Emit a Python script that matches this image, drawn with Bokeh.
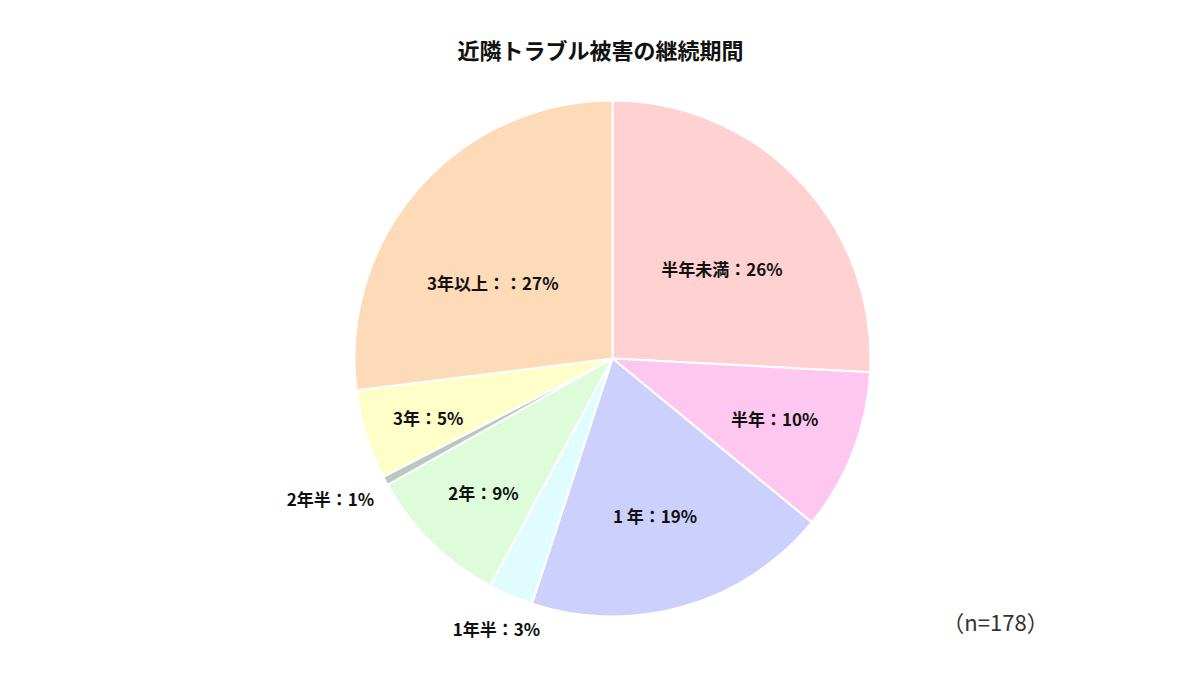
import math
from bokeh.plotting import figure
from bokeh.models import ColumnDataSource, Range1d, Label
from bokeh.core.properties import value
from bokeh.embed import file_html
from bokeh.resources import INLINE

# ---- data ----
categories = ["半年未満", "半年", "1年", "1年半", "2年", "2年半", "3年", "3年以上"]
counts = [46, 18, 34, 5, 16, 1, 10, 48]          # n = 178
label_texts = ["半年未満：26%", "半年：10%", "1 年：19%", "1年半：3%",
               "2年：9%", "2年半：1%", "3年：5%", "3年以上：：27%"]
colors = ["#FFD1D1", "#FDC7F0", "#CCD0FC", "#E0FCFC",
          "#DFFCDA", "#B9C9C1", "#FEFEC8", "#FDDAB8"]
# label placement (style): radial fraction and angular nudge (deg, clockwise)
label_radius_frac = [0.55, 0.67, 0.63, 1.14, 0.72, 1.22, 0.75, 0.55]
label_angle_nudge = [4, -1, 1, 0, -0.5, 2, -0.5, -9]
title_text = "近隣トラブル被害の継続期間"
note_text = "（n=178）"

W, H = 1184, 659
cx, cy, R = 612, 301, 258

total = sum(counts)
starts, ends, lx, ly = [], [], [], []
cum = 0.0
for c, f, nd in zip(counts, label_radius_frac, label_angle_nudge):
    a0 = cum / total * 2 * math.pi
    cum += c
    a1 = cum / total * 2 * math.pi
    starts.append(math.pi / 2 - a0)
    ends.append(math.pi / 2 - a1)
    mid = (a0 + a1) / 2 + math.radians(nd)
    lx.append(cx + R * f * math.sin(mid))
    ly.append(cy + R * f * math.cos(mid))

src = ColumnDataSource(dict(cat=categories, start=starts, end=ends, color=colors,
                            lx=lx, ly=ly, txt=label_texts))

p = figure(width=W, height=H, output_backend="svg", toolbar_location=None,
           x_range=Range1d(0, W), y_range=Range1d(0, H), min_border=0)
p.axis.visible = False
p.grid.visible = False
p.outline_line_color = None
p.background_fill_color = "white"

p.wedge(x=cx, y=cy, radius=R, start_angle="start", end_angle="end",
        direction="clock", fill_color="color", line_color="white",
        line_width=2, source=src)

p.text(x="lx", y="ly", text="txt", source=src, text_align="center",
       text_baseline="middle", text_font=value("Noto Sans CJK JP"),
       text_font_size="17px", text_font_style="bold", text_color="#111111")

p.add_layout(Label(x=600, y=H - 48, text=title_text, text_align="center",
                   text_baseline="middle", text_font="Noto Sans CJK JP",
                   text_font_size="22px", text_font_style="bold",
                   text_color="#111111"))
p.add_layout(Label(x=995, y=H - 620, text=note_text, text_align="center",
                   text_baseline="middle", text_font="Noto Sans CJK JP",
                   text_font_size="22px", text_color="#333333"))

open("out.html", "w").write(file_html(p, INLINE))
